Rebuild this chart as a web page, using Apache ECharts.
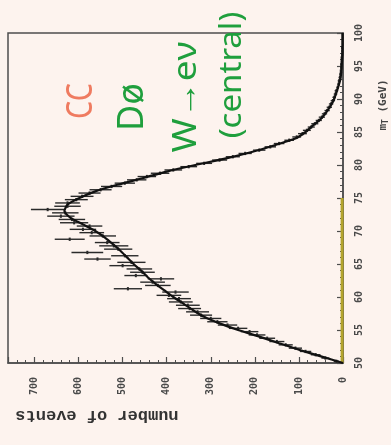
<!DOCTYPE html>
<html>
<head>
<meta charset="utf-8">
<script src="https://cdn.jsdelivr.net/npm/echarts@6/dist/echarts.min.js"></script>
<style>
html,body{margin:0;padding:0;background:#fdf3ee;}
#c{width:391px;height:445px;}
</style>
</head>
<body>
<div id="c"></div>
<script>
// m_T bin centres (GeV) of the data histogram
const mtCenters = [50.25,50.75,51.25,51.75,52.25,52.75,53.25,53.75,54.25,54.75,
55.25,55.75,56.25,56.75,57.25,57.75,58.25,58.75,59.25,59.75,
60.25,60.75,61.25,61.75,62.25,62.75,63.25,63.75,64.25,64.75,
65.25,65.75,66.25,66.75,67.25,67.75,68.25,68.75,69.25,69.75,
70.25,70.75,71.25,71.75,72.25,72.75,73.25,73.75,74.25,74.75,
75.25,75.75,76.25,76.75,77.25,77.75,78.25,78.75,79.25,79.75,
80.25,80.75,81.25,81.75,82.25,82.75,83.25,83.75,84.25,84.75,
85.25,85.75,86.25,86.75,87.25,87.75,88.25,88.75,89.25,89.75,
90.25,90.75,91.25,91.75,92.25,92.75,93.25,93.75,94.25,94.75,
95.25,95.75,96.25,96.75,97.25,97.75,98.25,98.75,99.25,99.75];
// number of events per bin
const events = [15,40,62,85,108,130,150,172,195,212,
238,262,285,300,322,330,348,352,368,372,
395,380,488,420,432,413,470,455,462,500,
480,557,495,580,510,520,535,620,545,570,
590,575,610,615,640,630,670,625,625,605,
592,575,550,525,495,468,445,415,385,350,
315,280,250,222,190,165,145,122,105,92,
82,72,64,55,48,42,36,31,27,23,
20,17,15,12,10,9,7,6,5,4,
4,3,3,2,2,2,1,1,1,1];
// statistical errors
const errors = [6,9,11,13,15,16,17,18,19,20,
21,22,23,24,25,26,26,27,27,27,
28,30,32,29,28,30,26,28,29,30,
32,30,31,36,32,33,28,34,30,28,
30,29,32,30,31,30,38,30,28,26,
26,25,25,24,23,22,21,21,20,19,
18,17,16,15,14,13,12,11,10,10,
9,8,8,7,7,6,6,6,5,5,
4,4,4,3,3,3,3,2,2,2,
2,2,2,1,1,1,1,1,1,1];
// fitted curve
const fitMt = [50,51,52,53,54,55,56,57,58,59,60,61,62,63,64,65,66,67,68,69,70,71,72,73,74,75,76,77,78,79,80,81,82,83,84,85,86,87,88,89,90,91,92,93,94,95,96,97,98,99,100];
const fitEvents = [0,50,100,145,190,238,280,315,340,362,385,405,425,443,458,475,490,505,522,540,562,590,618,632,625,598,562,512,455,400,335,265,205,155,108,85,68,50,38,28,20,15,10,6,4,3,2,1,1,1,1];
// background (yellow) histogram
const bgMt = [50,55,60,65,70,75];
const bgEvents = [2,2,2,2,2,2];
// tick labels
const eventTicks = [0,100,200,300,400,500,600,700];
const mtTicks = [50,55,60,65,70,75,80,85,90,95,100];

const chart = echarts.init(document.getElementById('c'), null, {renderer:'canvas'});
const labelFont = {fontFamily:'"DejaVu Sans Mono", monospace', fontSize:10, fontWeight:'bold', color:'#4a4a4a'};

chart.setOption({
  backgroundColor:'#fdf3ee',
  animation:false,
  grid:{left:8,right:48,top:33,bottom:82,show:true,borderColor:'#4d4d4d',borderWidth:1.5,backgroundColor:'transparent'},
  xAxis:{
    type:'value', min:0, max:760, interval:100, inverse:true, position:'bottom',
    axisLine:{show:true,lineStyle:{color:'#4d4d4d',width:1.5}},
    axisTick:{show:true,inside:true,length:6,lineStyle:{color:'#4d4d4d',width:1.2}},
    minorTick:{show:true,splitNumber:5,length:3,lineStyle:{color:'#4d4d4d'}},
    splitLine:{show:false},
    axisLabel:Object.assign({rotate:90,margin:14,
      formatter:v=> eventTicks.indexOf(v)>=0 ? String(v) : ''},labelFont)
  },
  yAxis:{
    type:'value', min:50, max:100, interval:5, position:'right',
    axisLine:{show:true,lineStyle:{color:'#4d4d4d',width:1.5}},
    axisTick:{show:true,inside:true,length:6,lineStyle:{color:'#4d4d4d',width:1.2}},
    minorTick:{show:true,splitNumber:5,length:3,lineStyle:{color:'#4d4d4d'}},
    splitLine:{show:false},
    axisLabel:Object.assign({rotate:90,margin:11,
      formatter:v=> mtTicks.indexOf(v)>=0 ? String(v) : ''},labelFont)
  },
  series:[
    {
      type:'line', data:bgMt.map((m,i)=>[bgEvents[i],m]), showSymbol:false,
      lineStyle:{color:'#b3a42c',width:3}, z:3
    },
    {
      type:'custom',
      data:mtCenters.map((m,i)=>[events[i],m,errors[i]]),
      renderItem:function(params,api){
        const v=api.value(0), m=api.value(1), e=api.value(2);
        const pL=api.coord([v+e,m]), pR=api.coord([v-e,m]);
        const pT=api.coord([v,m+0.25]), pB=api.coord([v,m-0.25]);
        return {type:'group',children:[
          {type:'line',shape:{x1:pL[0],y1:pL[1],x2:pR[0],y2:pR[1]},style:{stroke:'#2a2a2a',lineWidth:1.4}},
          {type:'line',shape:{x1:pT[0],y1:pT[1],x2:pB[0],y2:pB[1]},style:{stroke:'#2a2a2a',lineWidth:2}}
        ]};
      }, z:4
    },
    {
      type:'line', data:fitMt.map((m,i)=>[fitEvents[i],m]), showSymbol:false, smooth:0.2,
      lineStyle:{color:'#111',width:2.2}, z:5
    }
  ],
  graphic:[
    {type:'text',x:82,y:101,rotation:Math.PI/2,scaleX:0.8,
      style:{text:'CC',fill:'#ef7b60',fontSize:36,fontFamily:'"Noto Sans"',align:'center',verticalAlign:'middle'}},
    {type:'text',x:133,y:107,rotation:Math.PI/2,
      style:{text:'Dø',fill:'#1f9f3d',fontSize:36,fontFamily:'"Noto Sans"',align:'center',verticalAlign:'middle'}},
    {type:'text',x:187,y:97,rotation:Math.PI/2,scaleX:1.15,
      style:{text:'W→eν',fill:'#1f9f3d',fontSize:32,fontFamily:'"Noto Sans"',align:'center',verticalAlign:'middle'}},
    {type:'text',x:232,y:75,rotation:Math.PI/2,scaleX:1.1,
      style:{text:'(central)',fill:'#1f9f3d',fontSize:30,fontFamily:'"Noto Sans"',align:'center',verticalAlign:'middle'}},
    {type:'text',x:97,y:415,rotation:Math.PI,
      style:{text:'number of events',fill:'#333',fontSize:17,fontWeight:'bold',fontFamily:'"Liberation Mono"',align:'center',verticalAlign:'middle'}},
    {type:'text',x:383,y:105,rotation:Math.PI/2,
      style:{text:'m{s|T} (GeV)',fill:'#444',fontSize:11,fontWeight:'bold',fontFamily:'"DejaVu Sans Mono"',align:'center',verticalAlign:'middle',
        rich:{s:{fontSize:8,fontWeight:'bold',fontFamily:'"DejaVu Sans Mono"',fill:'#444',verticalAlign:'bottom',padding:[6,0,0,0]}}}}
  ]
});
</script>
</body>
</html>
